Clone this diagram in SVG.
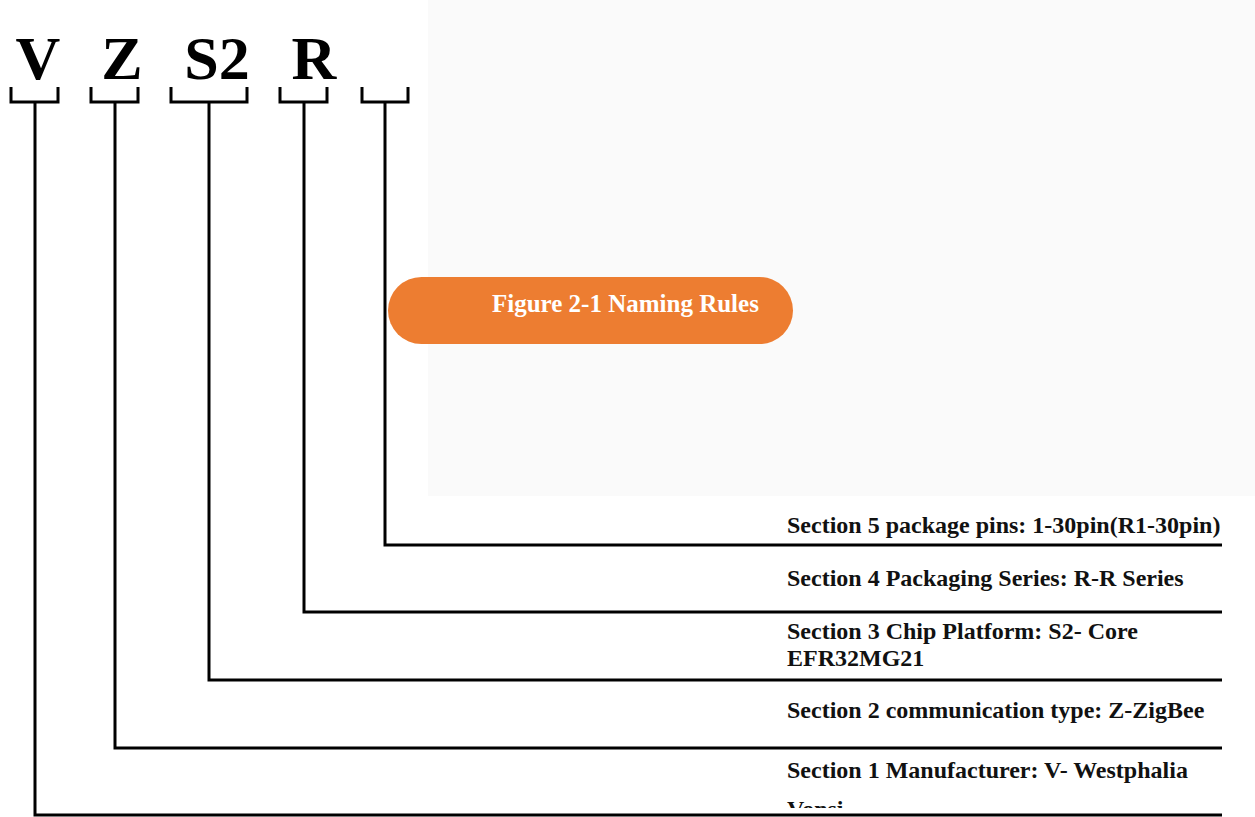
<svg xmlns="http://www.w3.org/2000/svg" width="1255" height="817" viewBox="0 0 1255 817">
<style>
.code{font-family:"Liberation Serif","Times New Roman",serif;font-weight:bold;font-size:62px;fill:#000;text-anchor:middle}
.lbl{font-family:"Liberation Serif","Times New Roman",serif;font-weight:bold;font-size:24px;fill:#111}
.ttl{font-family:"Liberation Serif","Times New Roman",serif;font-weight:bold;font-size:25px;fill:#fff}
.br{fill:none;stroke:#000;stroke-width:3}
.ln{fill:none;stroke:#000;stroke-width:3}
</style>
<defs>
<clipPath id="clipV"><rect x="780" y="790" width="200" height="18"/></clipPath>
</defs>
<rect x="428" y="0" width="827" height="496" fill="#fafafa"/>
<g id="code">
<text class="code" x="38" y="79">V</text>
<text class="code" x="122" y="79">Z</text>
<text class="code" x="217" y="79">S2</text>
<text class="code" x="314" y="79">R</text>
</g>
<g id="brackets">
<path class="br" d="M11,87 V102 H58 V87"/>
<path class="br" d="M91,87 V102 H138 V87"/>
<path class="br" d="M171,87 V102 H247 V87"/>
<path class="br" d="M280,87 V102 H327 V87"/>
<path class="br" d="M362,87 V102 H408 V87"/>
</g>
<g id="title">
<rect x="388" y="277" width="405" height="67" rx="33.5" fill="#ED7D31"/>
<text class="ttl" x="492" y="312">Figure 2-1 Naming Rules</text>
</g>
<g id="connectors">
<path class="ln" d="M385,102 V545 H1222"/>
<path class="ln" d="M304,102 V612 H1222"/>
<path class="ln" d="M209,102 V680 H1222"/>
<path class="ln" d="M115,102 V748 H1222"/>
<path class="ln" d="M35,102 V815 H1222"/>
</g>
<g id="section5"><text class="lbl" x="787" y="533">Section 5 package pins: 1-30pin(R1-30pin)</text></g>
<g id="section4"><text class="lbl" x="787" y="586">Section 4 Packaging Series: R-R Series</text></g>
<g id="section3"><text class="lbl" x="787" y="639">Section 3 Chip Platform: S2- Core</text><text class="lbl" x="787" y="666">EFR32MG21</text></g>
<g id="section2"><text class="lbl" x="787" y="718">Section 2 communication type: Z-ZigBee</text></g>
<g id="section1"><text class="lbl" x="787" y="778">Section 1 Manufacturer: V- Westphalia</text><text class="lbl" x="787" y="817" clip-path="url(#clipV)">Vonsi</text></g>
</svg>
